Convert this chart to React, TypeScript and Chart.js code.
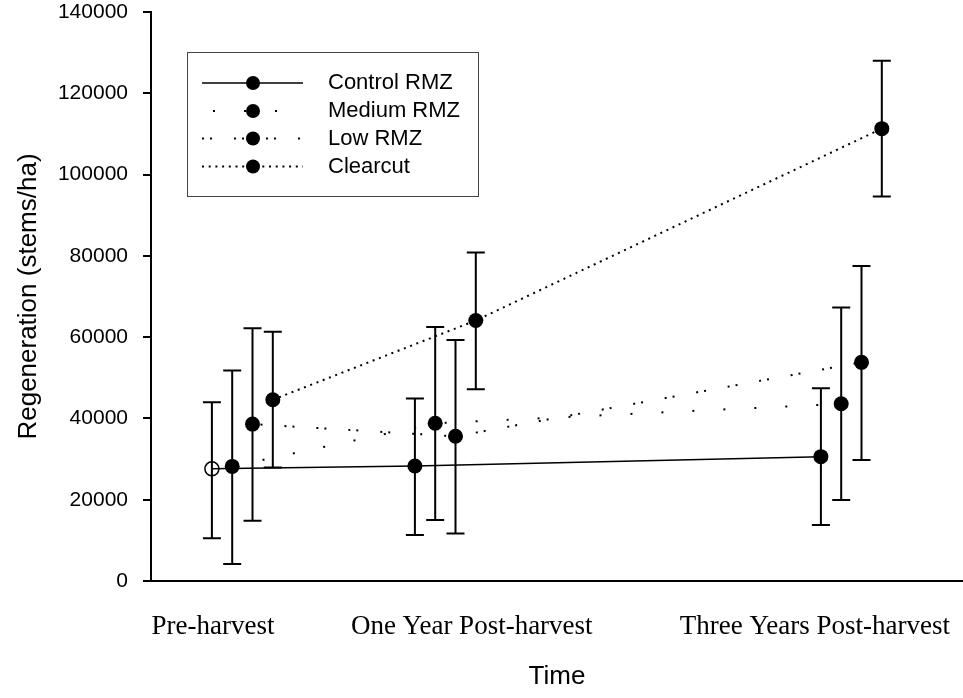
import React, { useEffect, useRef } from 'react';
import { Chart, registerables } from 'chart.js';

Chart.register(...registerables);

// ---- data ----
const categories = ['Pre-harvest', 'One Year Post-harvest', 'Three Years Post-harvest'];
const timePositions = [1, 3, 7];
const seriesNames = ['Control RMZ', 'Medium RMZ', 'Low RMZ', 'Clearcut'];
const seriesOffsets = [-0.4, -0.2, 0, 0.2];

const controlMean = [27600, 28300, 30600];
const controlUpper = [44000, 44900, 47400];
const controlLower = [10500, 11300, 13800];

const mediumMean = [28200, 38800, 43600];
const mediumUpper = [51800, 62500, 67300];
const mediumLower = [4200, 15000, 19900];

const lowMean = [38600, 35600, 53800];
const lowUpper = [62200, 59300, 77500];
const lowLower = [14800, 11700, 29800];

const clearcutMean = [44600, 64100, 111300];
const clearcutUpper = [61300, 80800, 128000];
const clearcutLower = [27900, 47200, 94600];

const yMin = 0;
const yMax = 140000;
const yStep = 20000;

// ---- layout / style (not data) ----
const categoryLabelAnchors = [0.61, 3.16, 6.54];
const dashes: number[][] = [[], [2, 29], [2, 6, 2, 22], [2, 4.7]];
const legendDashOffsets = [0, 20, 0, 0];
const lineWidths = [1.5, 2, 2, 2];
const SANS = '"Liberation Sans", Arial, Helvetica, sans-serif';
const SERIF = '"Liberation Serif", "Times New Roman", serif';

const series = [
  { mean: controlMean, upper: controlUpper, lower: controlLower },
  { mean: mediumMean, upper: mediumUpper, lower: mediumLower },
  { mean: lowMean, upper: lowUpper, lower: lowLower },
  { mean: clearcutMean, upper: clearcutUpper, lower: clearcutLower },
];

const errorBarPlugin = {
  id: 'errorBars',
  beforeDatasetsDraw(chart: any) {
    const { ctx } = chart;
    const x = chart.scales.x;
    const y = chart.scales.y;
    ctx.save();
    ctx.strokeStyle = '#000';
    ctx.lineWidth = 2;
    const cap = 9;
    series.forEach((s, si) => {
      s.mean.forEach((_m, i) => {
        const px = x.getPixelForValue(timePositions[i] + seriesOffsets[si]);
        const yl = y.getPixelForValue(s.lower[i]);
        const yu = y.getPixelForValue(s.upper[i]);
        ctx.beginPath();
        ctx.moveTo(px, yl);
        ctx.lineTo(px, yu);
        ctx.moveTo(px - cap, yl);
        ctx.lineTo(px + cap, yl);
        ctx.moveTo(px - cap, yu);
        ctx.lineTo(px + cap, yu);
        ctx.stroke();
      });
    });
    ctx.restore();
  },
};

const legendPlugin = {
  id: 'customLegend',
  afterDraw(chart: any) {
    const { ctx } = chart;
    ctx.save();
    const bx = 187.5, by = 52.5, bw = 291, bh = 144;
    ctx.strokeStyle = '#444';
    ctx.lineWidth = 1;
    ctx.strokeRect(bx, by, bw, bh);
    const rowY = [83, 111, 138.5, 166.5];
    seriesNames.forEach((name, i) => {
      const yy = rowY[i];
      ctx.beginPath();
      ctx.strokeStyle = '#000';
      ctx.lineWidth = lineWidths[i];
      ctx.setLineDash(dashes[i]);
      ctx.lineDashOffset = legendDashOffsets[i];
      ctx.moveTo(202, yy);
      ctx.lineTo(303, yy);
      ctx.stroke();
      ctx.setLineDash([]);
      ctx.lineDashOffset = 0;
      ctx.beginPath();
      ctx.fillStyle = '#000';
      ctx.arc(253, yy, 7, 0, Math.PI * 2);
      ctx.fill();
      ctx.font = `22px ${SANS}`;
      ctx.textAlign = 'left';
      ctx.textBaseline = 'middle';
      ctx.fillText(name, 328, yy);
    });
    ctx.restore();
  },
};

export default function App() {
  const canvasRef = useRef<HTMLCanvasElement | null>(null);

  useEffect(() => {
    document.body.style.margin = '0';
    const canvas = canvasRef.current;
    if (!canvas) return;

    const datasets = series.map((s, si) => ({
      label: seriesNames[si],
      data: s.mean.map((v, i) => ({ x: timePositions[i] + seriesOffsets[si], y: v })),
      showLine: true,
      borderColor: '#000',
      borderWidth: lineWidths[si],
      borderDash: dashes[si],
      borderCapStyle: 'butt' as const,
      tension: 0,
      fill: false,
      pointRadius: s.mean.map((_v, i) => (si === 0 && i === 0 ? 7 : 7.5)),
      pointBackgroundColor: s.mean.map((_v, i) => (si === 0 && i === 0 ? 'rgba(0,0,0,0)' : '#000')),
      pointBorderColor: '#000',
      pointBorderWidth: s.mean.map((_v, i) => (si === 0 && i === 0 ? 1.5 : 0)),
      pointHoverRadius: 7.5,
    }));

    const chart = new Chart(canvas, {
      type: 'scatter',
      data: { datasets },
      options: {
        responsive: false,
        animation: false,
        events: [],
        layout: { autoPadding: false, padding: { top: 12, right: 0, bottom: 0, left: 0 } },
        plugins: { legend: { display: false }, tooltip: { enabled: false } },
        scales: {
          x: {
            type: 'linear',
            min: 0,
            max: 8,
            afterFit: (s: any) => {
              s.height = 117;
              s.paddingLeft = 0;
              s.paddingRight = 0;
              s.paddingTop = 0;
              s.paddingBottom = 0;
            },
            afterBuildTicks: (s: any) => {
              s.ticks = categoryLabelAnchors.map((v) => ({ value: v }));
            },
            ticks: {
              autoSkip: false,
              maxRotation: 0,
              minRotation: 0,
              padding: 30,
              color: '#000',
              font: { family: SERIF, size: 27 },
              callback: (_v: any, i: number) => categories[i],
            },
            grid: { display: false, drawTicks: false },
            border: { display: true, color: '#000', width: 2 },
            title: {
              display: true,
              text: 'Time',
              color: '#000',
              font: { family: SANS, size: 26 },
              padding: { top: 0, bottom: 6 },
            },
          },
          y: {
            type: 'linear',
            min: yMin,
            max: yMax,
            afterFit: (s: any) => {
              s.width = 151;
              s.paddingLeft = 0;
              s.paddingRight = 0;
              s.paddingTop = 0;
              s.paddingBottom = 0;
            },
            ticks: {
              stepSize: yStep,
              padding: 15,
              color: '#000',
              font: { family: SANS, size: 21 },
              callback: (v: any) => String(v),
            },
            grid: { drawOnChartArea: false, drawTicks: true, tickLength: 8, color: '#000', lineWidth: 2 },
            border: { display: true, color: '#000', width: 2 },
            title: {
              display: true,
              text: 'Regeneration (stems/ha)',
              color: '#000',
              font: { family: SANS, size: 26 },
              padding: { top: 13, bottom: 0 },
            },
          },
        },
      },
      plugins: [errorBarPlugin, legendPlugin],
    });

    return () => chart.destroy();
  }, []);

  return (
    <div style={{ position: 'absolute', left: 0, top: 0, width: 963, height: 698, background: '#fff' }}>
      <canvas ref={canvasRef} width={963} height={698} style={{ display: 'block' }} />
    </div>
  );
}
